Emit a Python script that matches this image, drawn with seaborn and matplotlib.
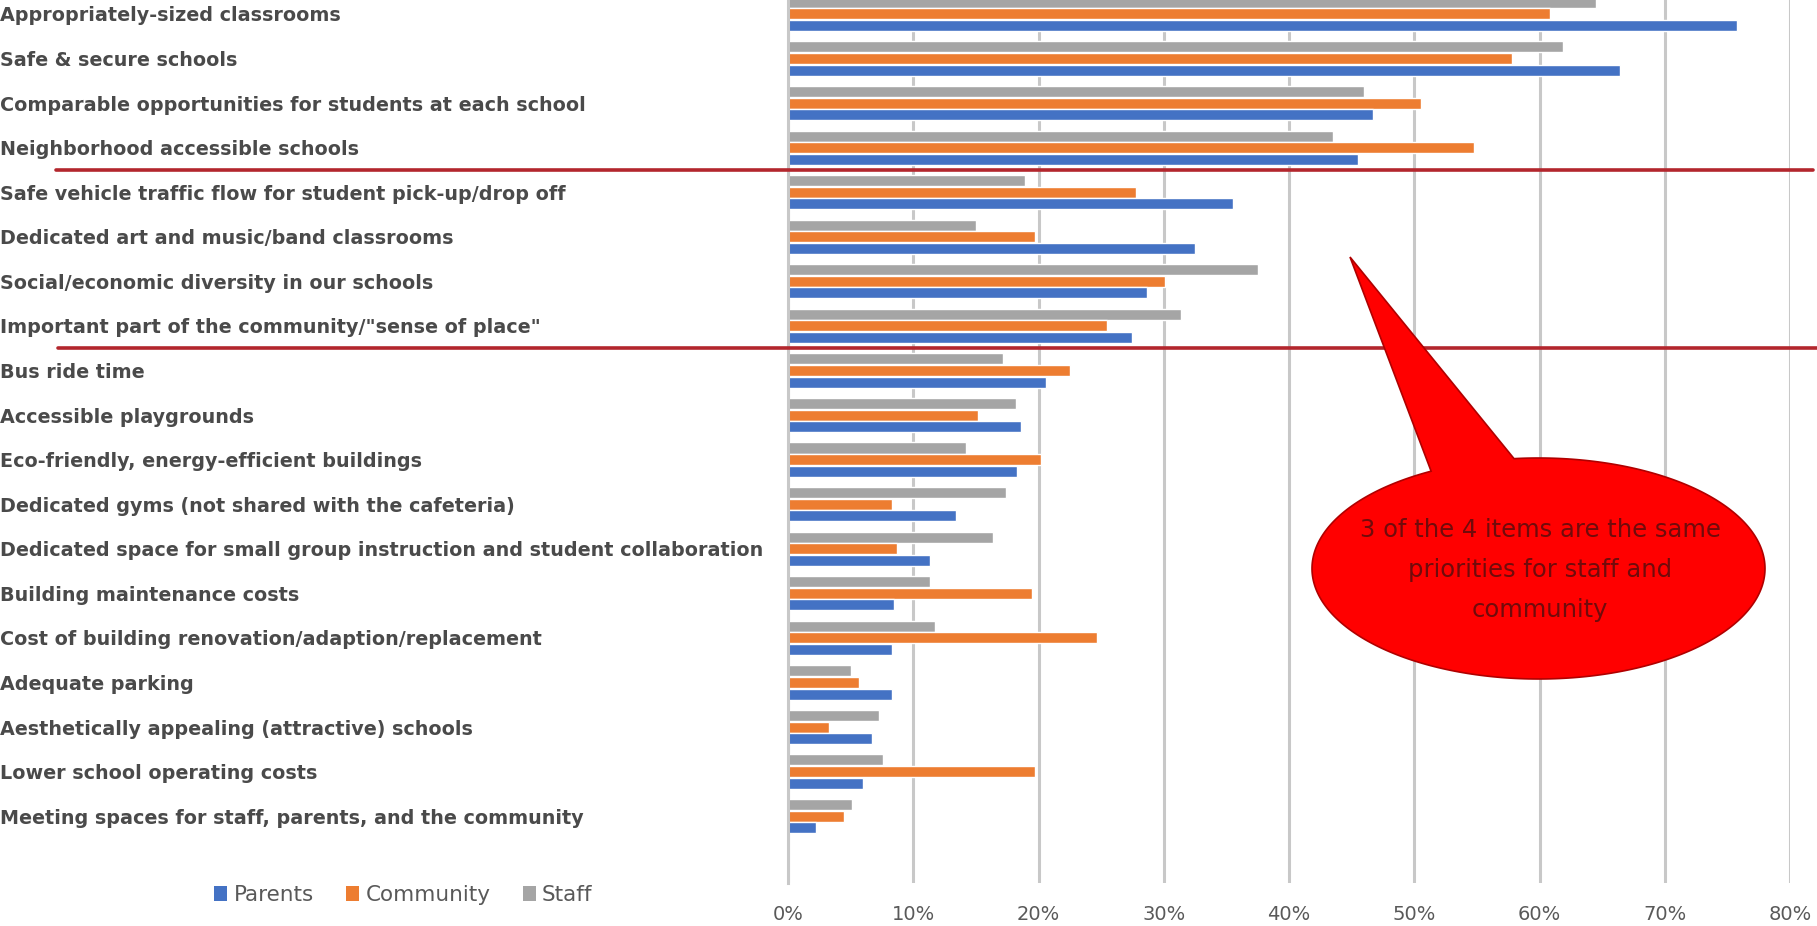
import numpy as np
import pandas as pd
import matplotlib
matplotlib.use("Agg")
import matplotlib.pyplot as plt
import matplotlib.transforms as mtransforms
from matplotlib.patches import Polygon, Patch
import seaborn as sns

sns.set_style("white")
plt.rcParams["font.family"] = ["DejaVu Sans"]

# Survey priorities, share of respondents in each group
items = [
    "Appropriately-sized classrooms",
    "Safe & secure schools",
    "Comparable opportunities for students at each school",
    "Neighborhood accessible schools",
    "Safe vehicle traffic flow for student pick-up/drop off",
    "Dedicated art and music/band classrooms",
    "Social/economic diversity in our schools",
    "Important part of the community/\"sense of place\"",
    "Bus ride time",
    "Accessible playgrounds",
    "Eco-friendly, energy-efficient buildings",
    "Dedicated gyms (not shared with the cafeteria)",
    "Dedicated space for small group instruction and student collaboration",
    "Building maintenance costs",
    "Cost of building renovation/adaption/replacement",
    "Adequate parking",
    "Aesthetically appealing (attractive) schools",
    "Lower school operating costs",
    "Meeting spaces for staff, parents, and the community",
]
parents = [0.758, 0.664, 0.467, 0.455, 0.355, 0.325, 0.287, 0.275, 0.206, 0.186,
           0.183, 0.134, 0.113, 0.085, 0.083, 0.083, 0.067, 0.060, 0.022]
community = [0.608, 0.578, 0.505, 0.548, 0.278, 0.197, 0.301, 0.255, 0.225, 0.152,
             0.202, 0.083, 0.087, 0.195, 0.247, 0.057, 0.033, 0.197, 0.045]
staff = [0.645, 0.619, 0.460, 0.435, 0.189, 0.150, 0.375, 0.314, 0.172, 0.182,
         0.142, 0.174, 0.164, 0.113, 0.117, 0.050, 0.073, 0.076, 0.051]
groups = ["Parents", "Community", "Staff"]
colors = {"Parents": "#4472C4", "Community": "#ED7D31", "Staff": "#A5A5A5"}
x_ticks = [0.0, 0.1, 0.2, 0.3, 0.4, 0.5, 0.6, 0.7, 0.8]
x_tick_labels = ["0%", "10%", "20%", "30%", "40%", "50%", "60%", "70%", "80%"]

df = pd.DataFrame({
    "item": items * 3,
    "group": ["Parents"] * len(items) + ["Community"] * len(items) + ["Staff"] * len(items),
    "share": parents + community + staff,
})

W, H = 1817, 926
fig = plt.figure(figsize=(W / 100, H / 100), dpi=100)
ax = fig.add_axes([788 / W, 43 / H, 1002 / W, 891.4 / H])

sns.barplot(data=df, x="share", y="item", hue="group",
            hue_order=["Staff", "Community", "Parents"], order=items,
            palette=colors, orient="h", width=0.78, gap=0.05,
            saturation=1, legend=False, ax=ax)

ax.set_xlim(0, 0.8)
ax.set_ylim(len(items) + 0.5, -0.5)
ax.set_xlabel("")
ax.set_ylabel("")
ax.set_xticks(x_ticks)
ax.set_xticklabels(x_tick_labels, fontsize=14, color="#595959")
ax.xaxis.grid(True, color="#C8C8C8", lw=2.2)
ax.set_axisbelow(True)
for side in ["top", "right", "bottom"]:
    ax.spines[side].set_visible(False)
ax.spines["left"].set_color("#C8C8C8")
ax.spines["left"].set_linewidth(2.2)
ax.tick_params(axis="x", length=0, pad=16)

# Category labels flush with the left edge of the figure
ax.set_yticks(range(len(items)))
ax.set_yticklabels(items, fontsize=13.8, fontweight="bold", color="#4A4A4A")
ax.tick_params(axis="y", length=0, pad=788 * 72 / 100)
for lbl in ax.get_yticklabels():
    lbl.set_horizontalalignment("left")

# Dividers around the second tier of priorities
trans = mtransforms.blended_transform_factory(fig.transFigure, ax.transData)
ax.plot([56 / W, 1813 / W], [3.5, 3.5], transform=trans, clip_on=False,
        color="#B3262D", lw=2.6, zorder=5)
ax.plot([58 / W, 1.0], [7.5, 7.5], transform=trans, clip_on=False,
        color="#B3262D", lw=2.6, zorder=5)

# Speech-bubble callout
cx, cy, a, b = 1538.5, H - 568.5, 226.5, 110.5
tip = (1350, H - 257)
ang = np.linspace(np.deg2rad(96.2), np.deg2rad(118.3) - 2 * np.pi, 300)
pts = [tip] + [(cx + a * np.cos(t), cy + b * np.sin(t)) for t in ang] + [tip]
pts = np.array(pts) / np.array([W, H])
bubble = Polygon(pts, closed=True, transform=fig.transFigure,
                 facecolor="#FF0000", edgecolor="#B00000", lw=1.2, zorder=10)
fig.add_artist(bubble)
fig.text(1540 / W, (H - 570) / H,
         "3 of the 4 items are the same\npriorities for staff and\ncommunity",
         ha="center", va="center", color="#700B0B", fontsize=17.5,
         linespacing=1.85, zorder=11)

# Legend
handles = [Patch(facecolor=colors[g], edgecolor="none") for g in groups]
leg = fig.legend(handles, groups, loc="center left",
                 bbox_to_anchor=(214 / W, (H - 895) / H), ncol=3, frameon=False,
                 fontsize=15.5, handlelength=0.6, handleheight=0.75,
                 handletextpad=0.3, columnspacing=1.5,
                 borderpad=0, borderaxespad=0)
for t in leg.get_texts():
    t.set_color("#595959")

fig.savefig("out.png", dpi=100)
